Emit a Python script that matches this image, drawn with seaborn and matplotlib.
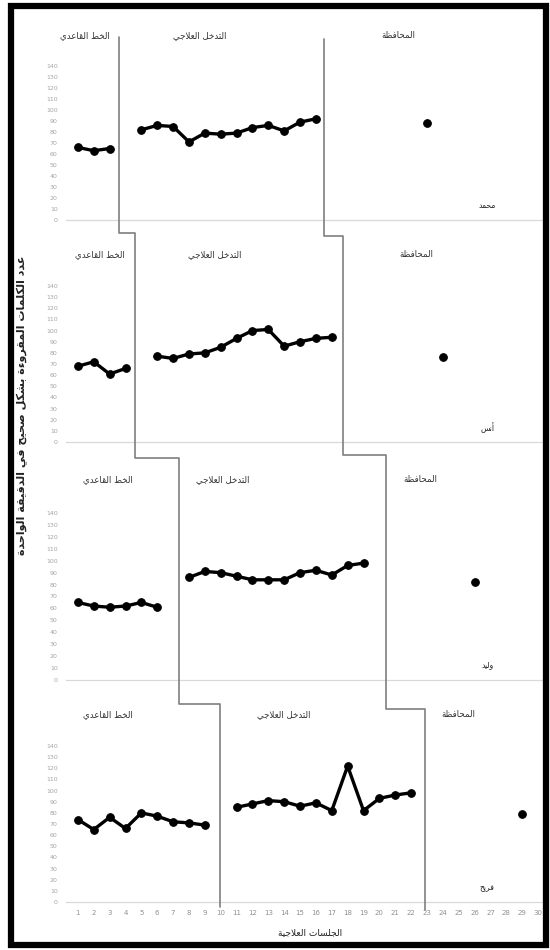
import matplotlib
matplotlib.use("Agg")
import matplotlib.pyplot as plt
from matplotlib.lines import Line2D
from matplotlib.patches import Rectangle
import seaborn as sns
import pandas as pd

# ---- data ----
participants = ["محمد", "أنس", "وليد", "فريح"]
phase_names = ["الخط القاعدي", "التدخل العلاجي", "المحافظة"]

mohamed_sessions = [[1, 2, 3], list(range(5, 17)), [23]]
mohamed_values = [[66, 63, 65],
                  [82, 86, 85, 71, 79, 78, 79, 84, 86, 81, 89, 92],
                  [88]]

anas_sessions = [[1, 2, 3, 4], list(range(6, 18)), [24]]
anas_values = [[68, 72, 61, 66],
               [77, 75, 79, 80, 85, 93, 100, 101, 86, 90, 93, 94],
               [76]]

walid_sessions = [list(range(1, 7)), list(range(8, 20)), [26]]
walid_values = [[65, 62, 61, 62, 65, 61],
                [86, 91, 90, 87, 84, 84, 84, 90, 92, 88, 96, 98],
                [82]]

fareeh_sessions = [list(range(1, 10)), list(range(11, 23)), [29]]
fareeh_values = [[74, 65, 76, 66, 80, 77, 72, 71, 69],
                 [85, 88, 91, 90, 86, 89, 82, 122, 82, 93, 96, 98],
                 [79]]

y_ticks = list(range(0, 141, 10))
x_ticks = list(range(1, 31))

y_label = "عدد الكلمات المقروءة بشكل صحيح في الدقيقة الواحدة"
x_label = "الجلسات العلاجية"

# ---- minimal arabic shaping (matplotlib has no complex text layout) ----
FORMS = {
    "ء": ("\uFE80",), "أ": ("\uFE83", "\uFE84"), "ا": ("\uFE8D", "\uFE8E"),
    "ب": ("\uFE8F", "\uFE90", "\uFE91", "\uFE92"), "ة": ("\uFE93", "\uFE94"),
    "ت": ("\uFE95", "\uFE96", "\uFE97", "\uFE98"), "ج": ("\uFE9D", "\uFE9E", "\uFE9F", "\uFEA0"),
    "ح": ("\uFEA1", "\uFEA2", "\uFEA3", "\uFEA4"), "خ": ("\uFEA5", "\uFEA6", "\uFEA7", "\uFEA8"),
    "د": ("\uFEA9", "\uFEAA"), "ر": ("\uFEAD", "\uFEAE"),
    "س": ("\uFEB1", "\uFEB2", "\uFEB3", "\uFEB4"), "ش": ("\uFEB5", "\uFEB6", "\uFEB7", "\uFEB8"),
    "ص": ("\uFEB9", "\uFEBA", "\uFEBB", "\uFEBC"), "ط": ("\uFEC1", "\uFEC2", "\uFEC3", "\uFEC4"),
    "ظ": ("\uFEC5", "\uFEC6", "\uFEC7", "\uFEC8"), "ع": ("\uFEC9", "\uFECA", "\uFECB", "\uFECC"),
    "ف": ("\uFED1", "\uFED2", "\uFED3", "\uFED4"), "ق": ("\uFED5", "\uFED6", "\uFED7", "\uFED8"),
    "ك": ("\uFED9", "\uFEDA", "\uFEDB", "\uFEDC"), "ل": ("\uFEDD", "\uFEDE", "\uFEDF", "\uFEE0"),
    "م": ("\uFEE1", "\uFEE2", "\uFEE3", "\uFEE4"), "ن": ("\uFEE5", "\uFEE6", "\uFEE7", "\uFEE8"),
    "و": ("\uFEED", "\uFEEE"), "ي": ("\uFEF1", "\uFEF2", "\uFEF3", "\uFEF4"),
    "لا": ("\uFEFB", "\uFEFC"), "لأ": ("\uFEF7", "\uFEF8"),
}


def ar(text):
    tokens, i = [], 0
    while i < len(text):
        if text[i] == "ل" and i + 1 < len(text) and text[i + 1] in "اأ":
            tokens.append(text[i:i + 2])
            i += 2
        else:
            tokens.append(text[i])
            i += 1
    out = []
    for k, t in enumerate(tokens):
        f = FORMS.get(t)
        if f is None:
            out.append(t)
            continue
        prev = FORMS.get(tokens[k - 1]) if k > 0 else None
        nxt = FORMS.get(tokens[k + 1]) if k + 1 < len(tokens) else None
        jp = prev is not None and len(prev) == 4 and len(f) >= 2
        jn = len(f) == 4 and nxt is not None and len(nxt) >= 2
        if jp and jn:
            out.append(f[3])
        elif jp:
            out.append(f[1])
        elif jn:
            out.append(f[2])
        else:
            out.append(f[0])
    return "".join(out)[::-1]


sns.set_style("white")
plt.rcParams["font.family"] = ["DejaVu Sans"]

W, H = 550, 950
fig = plt.figure(figsize=(W / 100, H / 100), dpi=100)

# panel boxes in pixels: (top of 140, bottom at 0)
panel_px = [(66, 220), (286, 442), (513, 680), (746, 902)]
left_px, right_px = 66, 546

all_sessions = [mohamed_sessions, anas_sessions, walid_sessions, fareeh_sessions]
all_values = [mohamed_values, anas_values, walid_values, fareeh_values]
title_x = [[1.45, 8.7, 21.2], [2.4, 9.6, 22.3], [2.9, 10.1, 22.6], [2.9, 14.0, 25.0]]

axes = []
for i, (top, bot) in enumerate(panel_px):
    ax = fig.add_axes([left_px / W, 1 - bot / H, (right_px - left_px) / W, (bot - top) / H])
    rows = []
    for p, (ss, vv) in enumerate(zip(all_sessions[i], all_values[i])):
        for s, v in zip(ss, vv):
            rows.append({"session": s, "value": v, "phase": phase_names[p]})
    df = pd.DataFrame(rows)
    sns.lineplot(data=df, x="session", y="value", hue="phase", palette=["black"] * 3,
                 marker="o", markersize=5.5, markeredgecolor="black", linewidth=2.4,
                 legend=False, ax=ax, clip_on=False)
    ax.set_xlim(0.25, 30.5)
    ax.set_ylim(0, 140)
    ax.set_yticks(y_ticks)
    ax.set_yticklabels([str(t) for t in y_ticks], fontsize=4.5, color="#a5a5a5")
    ax.set_xticks(x_ticks)
    ax.tick_params(length=0, pad=6)
    if i < 3:
        ax.tick_params(labelbottom=False)
    else:
        ax.set_xticklabels([str(t) for t in x_ticks], fontsize=5, color="#909090")
    ax.set_xlabel("")
    ax.set_ylabel("")
    for side in ["top", "right", "left"]:
        ax.spines[side].set_visible(False)
    ax.spines["bottom"].set_color("#d9d9d9")
    ax.spines["bottom"].set_linewidth(0.9)
    ax.patch.set_alpha(0)
    for p in range(3):
        ax.text(title_x[i][p], 168, ar(phase_names[p]), ha="center", va="center",
                fontsize=6.2, color="#333333", clip_on=False)
    ax.text(26.8, 13, ar(participants[i]), ha="center", va="center", fontsize=5.5,
            color="#222222", clip_on=False)
    axes.append(ax)

# phase change lines (staircase across panels)
phase_x = [[3.6, 4.6, 7.4, 9.95], [16.5, 17.7, 20.4, 22.9]]
step_y = [[37, 233, 458, 704, 907], [39, 236, 455, 709, 910]]
fig.canvas.draw()
for xs, ys in zip(phase_x, step_y):
    px, py = [], []
    for i, s in enumerate(xs):
        xd = axes[i].transData.transform((s, 0))[0] / W
        px += [xd, xd]
        py += [1 - ys[i] / H, 1 - ys[i + 1] / H]
        if i + 1 < len(xs):
            xn = axes[i + 1].transData.transform((xs[i + 1], 0))[0] / W
            px.append(xn)
            py.append(1 - ys[i + 1] / H)
    fig.add_artist(Line2D(px, py, transform=fig.transFigure, color="#7f7f7f", lw=1.2))

fig.text(22 / W, 1 - 405 / H, ar(y_label), rotation=90, ha="center", va="center",
         fontsize=8, fontweight="bold", color="#222222")
fig.text(310 / W, 1 - 933 / H, ar(x_label), ha="center", va="center",
         fontsize=6.5, color="#222222")

fig.add_artist(Rectangle((11 / W, 5 / H), (546 - 11) / W, (944 - 5) / H,
                         transform=fig.transFigure, fill=False, ec="black", lw=4.5))

fig.savefig("out.png", dpi=100)
